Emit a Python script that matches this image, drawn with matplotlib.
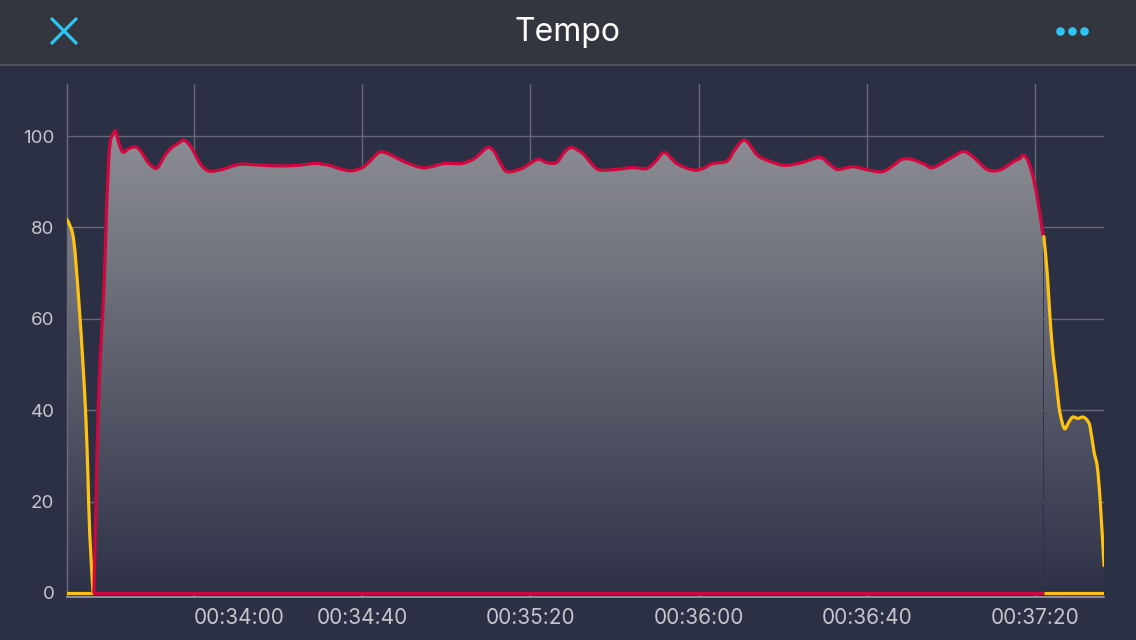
import numpy as np
import matplotlib
matplotlib.use("Agg")
import matplotlib.pyplot as plt
from matplotlib.path import Path
from matplotlib.patches import PathPatch, Rectangle
from matplotlib.lines import Line2D
from matplotlib.colors import LinearSegmentedColormap
import matplotlib.transforms as mtrans

# ---------------- data (time in seconds since 00:00:00, tempo value) ----------------
warmup_t = [2009.5, 2010.2, 2011.4, 2012.6, 2013.6, 2014.3, 2014.8, 2015.2, 2016.0]
warmup_v = [82, 81, 77.2, 64, 50, 38, 25, 13, 0]

main_t = [2016.2, 2016.7, 2017.4, 2018.6, 2019.3, 2020.0, 2021.0, 2021.4, 2022.1, 2023.1,
          2024.5, 2026.2, 2027.4, 2029.3, 2031.2, 2032.9, 2034.5, 2036.4, 2037.6, 2039.3,
          2041.2, 2042.6, 2044.0, 2046.7, 2050.7, 2054.8, 2058.6, 2062.6, 2065.7, 2069.0,
          2072.1, 2075.2, 2077.6, 2080.0, 2081.7, 2084.0, 2086.0, 2090.0, 2094.0, 2096.4,
          2099.5, 2103.6, 2106.7, 2109.8, 2111.4, 2112.9, 2114.5, 2117.9, 2121.7, 2123.8,
          2126.2, 2128.1, 2129.8, 2132.4, 2134.5, 2136.4, 2140.5, 2144.3, 2147.6, 2149.8,
          2151.9, 2154.8, 2158.6, 2161.0, 2163.3, 2166.7, 2168.6, 2171.0, 2174.0, 2176.9,
          2180.5, 2184.5, 2188.8, 2191.2, 2193.1, 2196.7, 2200.2, 2203.6, 2206.2, 2208.3,
          2210.7, 2213.8, 2215.7, 2219.8, 2222.9, 2225.2, 2228.6, 2231.7, 2234.8, 2236.4,
          2237.1, 2238.1, 2239.3, 2240.5, 2241.9]
main_v = [0, 20, 45, 67, 86, 98, 100.8, 101, 98.5, 96.5,
          97.3, 97.6, 96.6, 94, 93, 95.5, 97.3, 98.5, 99.1, 97.6,
          94.4, 92.8, 92.3, 92.7, 93.8, 93.7, 93.5, 93.5, 93.7, 94.0,
          93.6, 92.7, 92.4, 93.1, 94.4, 96.4, 96.2, 94.4, 93.1, 93.3,
          94.0, 94.0, 95.1, 97.5, 96.6, 94, 92.2, 92.9, 94.9, 94.2,
          94.2, 96.5, 97.5, 96.2, 94, 92.6, 92.7, 93.1, 92.9, 94.5,
          96.4, 94.0, 92.6, 92.9, 94.0, 94.5, 97.0, 99.1, 95.8, 94.5,
          93.6, 94.2, 95.3, 93.8, 92.7, 93.3, 92.6, 92.2, 93.5, 94.9,
          94.9, 93.8, 93.1, 95.1, 96.6, 95.5, 92.7, 92.6, 94.4, 95.1,
          95.8, 95.0, 91.9, 86.7, 78.3]

cooldown_t = [2242.1, 2242.9, 2243.6, 2244.3, 2245.0, 2245.7, 2246.4, 2247.1, 2248.1, 2249.0,
              2250.2, 2251.4, 2252.4, 2253.1, 2254.0, 2254.8, 2255.5, 2256.4]
cooldown_v = [78, 70, 59.7, 52, 46.6, 40.7, 37.5, 35.9, 37.5, 38.5,
              38.2, 38.5, 37.8, 36.3, 31, 27.6, 20, 6]

y_ticks = [0, 20, 40, 60, 80, 100]
x_ticks = [2040, 2080, 2120, 2160, 2200, 2240]
x_tick_labels = ["00:34:00", "00:34:40", "00:35:20", "00:36:00", "00:36:40", "00:37:20"]
title = "Tempo"

WARM_COLOR = "#ffc20e"
MAIN_COLOR = "#d1063f"


def smooth_path_pieces(t, v):
    """Cardinal (Catmull-Rom) Bezier pieces through the data points."""
    P = np.column_stack([t, v]).astype(float)
    n = len(P)
    verts = [tuple(P[0])]
    codes = [Path.MOVETO]
    for i in range(n - 1):
        p0 = P[i - 1] if i > 0 else P[i]
        p1, p2 = P[i], P[i + 1]
        p3 = P[i + 2] if i + 2 < n else P[i + 1]
        c1 = p1 + (p2 - p0) / 6.0
        c2 = p2 - (p3 - p1) / 6.0
        verts += [tuple(c1), tuple(c2), tuple(p2)]
        codes += [Path.CURVE4] * 3
    return verts, codes


# ---------------- figure ----------------
W, H = 1136, 640
fig = plt.figure(figsize=(W / 100, H / 100), dpi=100)
BG = "#2c3045"
fig.patch.set_facecolor(BG)

# header bar
fig.add_artist(Rectangle((0, 1 - 64 / H), 1, 64 / H, transform=fig.transFigure,
                         facecolor="#33353f", edgecolor="none", zorder=0))
fig.add_artist(Line2D([0, 1], [1 - 64.5 / H] * 2, transform=fig.transFigure,
                      color="#585a64", lw=1.2))
# close icon
fig.add_artist(Line2D([51 / W, 77 / W], [1 - 18 / H, 1 - 44 / H], transform=fig.transFigure,
                      color="#2fc5f3", lw=2.3, solid_capstyle="butt"))
fig.add_artist(Line2D([51 / W, 77 / W], [1 - 44 / H, 1 - 18 / H], transform=fig.transFigure,
                      color="#2fc5f3", lw=2.3, solid_capstyle="butt"))
# more dots
fig.add_artist(Line2D([1060 / W, 1072 / W, 1084 / W], [1 - 31 / H] * 3, transform=fig.transFigure,
                      color="#2fc5f3", lw=0, marker="o", ms=6.2, markeredgewidth=0))
fig.text(0.5, 1 - 41.5 / H, title, ha="center", va="baseline", color="white",
         fontsize=23, fontfamily="Inter")

# ---------------- axes ----------------
ax = fig.add_axes([67 / W, (H - 597) / H, (1104 - 67) / W, (597 - 84) / H])
ax.set_facecolor(BG)

xmin, xmax = 2009.8, 2256.4
ymin, ymax = -0.9, 111.4

cmap = LinearSegmentedColormap.from_list("g", ["#2e3247", "#8d8e94"])
grad = np.linspace(1, 0, 256).reshape(-1, 1)

segments = [(warmup_t, warmup_v, WARM_COLOR),
            (main_t, main_v, MAIN_COLOR),
            (cooldown_t, cooldown_v, WARM_COLOR)]

for t, v, c in segments:
    cverts, ccodes = smooth_path_pieces(t, v)
    # fill region: smooth curve, down to the baseline, back to the start
    fverts = cverts + [(t[-1], 0), (t[0], 0), (t[0], v[0])]
    fcodes = ccodes + [Path.LINETO, Path.LINETO, Path.CLOSEPOLY]
    fill_patch = PathPatch(Path(fverts, fcodes), facecolor="none", edgecolor="none")
    ax.add_patch(fill_patch)
    im = ax.imshow(grad, extent=[xmin - 5, xmax + 5, 0, 101], origin="upper", cmap=cmap,
                   aspect="auto", zorder=1, interpolation="bilinear")
    im.set_clip_path(fill_patch)
    # outline curve
    ax.add_patch(PathPatch(Path(cverts, ccodes), facecolor="none", edgecolor=c, lw=2.3,
                           joinstyle="round", capstyle="round", zorder=3))
    # baseline segment
    ax.plot([t[0], t[-1]], [0, 0], color=c, lw=2.3, solid_capstyle="butt", zorder=3)

ax.set_xlim(xmin, xmax)
ax.set_ylim(ymin, ymax)

ax.set_yticks(y_ticks)
ax.set_xticks(x_ticks)
ax.set_xticklabels(x_tick_labels)
ax.grid(True, color="#666977", lw=1, zorder=0)
ax.set_axisbelow(True)

for s in ["top", "right"]:
    ax.spines[s].set_visible(False)
ax.spines["left"].set_color("#6b6e7a")
ax.spines["left"].set_linewidth(1)
ax.spines["bottom"].set_color("#9c9ea6")
ax.spines["bottom"].set_linewidth(1.2)

ax.tick_params(axis="both", length=0, labelcolor="#c4c6cc")
ax.tick_params(axis="y", pad=9, labelsize=13.5)
ax.tick_params(axis="x", pad=8, labelsize=15)
for lbl in ax.get_xticklabels() + ax.get_yticklabels():
    lbl.set_fontfamily("Inter")

# first time label is pushed right so it does not collide with the y axis
first = ax.get_xticklabels()[0]
first.set_transform(first.get_transform() + mtrans.ScaledTranslation(45 / 100, 0, fig.dpi_scale_trans))

fig.savefig("out.png", dpi=100, facecolor=fig.get_facecolor())
